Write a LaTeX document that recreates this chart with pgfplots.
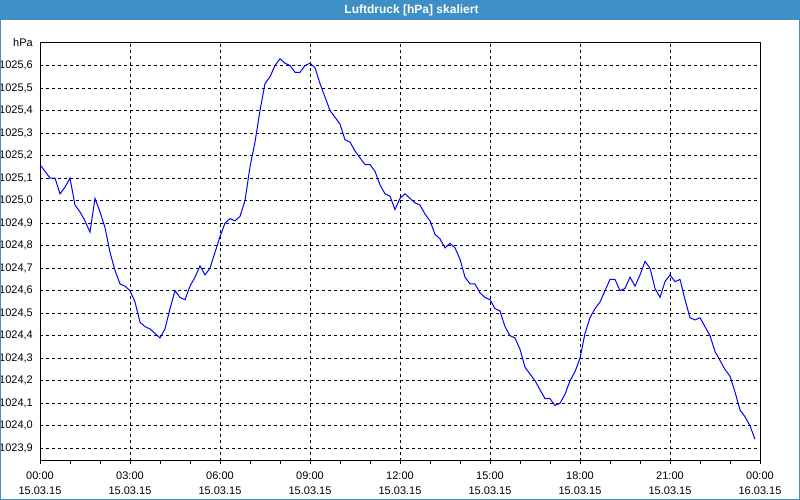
\documentclass[border=0pt]{standalone}
\usepackage{pgfplots}
\pgfplotsset{compat=1.18}
\usepackage{fontspec}
\setmainfont{Liberation Sans}
\definecolor{barblue}{RGB}{61,143,198}
\begin{document}
\fontsize{11}{15}\selectfont
\begin{tikzpicture}[x=1pt,y=1pt]
\useasboundingbox (0,0) rectangle (800,500);
\fill[white] (0,0) rectangle (800,500);
\fill[barblue] (0,480) rectangle (800,500);
\node[text=white, font=\fontsize{12}{14}\selectfont\bfseries, anchor=base] at (411.5,486) {Luftdruck [hPa] skaliert};
\begin{axis}[
  at={(40pt,39pt)}, anchor=south west,
  scale only axis, width=720pt, height=418pt,
  xmin=0, xmax=1440, ymin=1023.8435, ymax=1025.7,
  xtick={0,180,360,540,720,900,1080,1260,1440},
  xticklabels={{00:00\\15.03.15},{03:00\\15.03.15},{06:00\\15.03.15},{09:00\\15.03.15},{12:00\\15.03.15},{15:00\\15.03.15},{18:00\\15.03.15},{21:00\\15.03.15},{00:00\\16.03.15}},
  minor xtick={60,120,240,300,420,480,600,660,780,840,960,1020,1140,1200,1320,1380},
  ytick={1023.9,1024.0,1024.1,1024.2,1024.3,1024.4,1024.5,1024.6,1024.7,1024.8,1024.9,1025.0,1025.1,1025.2,1025.3,1025.4,1025.5,1025.6,1025.7},
  yticklabels={{1023,9},{1024,0},{1024,1},{1024,2},{1024,3},{1024,4},{1024,5},{1024,6},{1024,7},{1024,8},{1024,9},{1025,0},{1025,1},{1025,2},{1025,3},{1025,4},{1025,5},{1025,6},{hPa}},
  tick align=outside,
  xtick pos=bottom, ytick pos=left,
  major tick length=3pt, minor tick length=3pt,
  ytick style={/pgfplots/major tick length=0pt},
  tick style={black, line width=1pt},
  xmajorgrids, ymajorgrids,
  major grid style={black, line width=1pt, dash pattern=on 3pt off 3pt},
  axis line style={black, line width=1pt},
  xticklabel style={align=center, inner sep=0pt, yshift=-7.5pt, font=\fontsize{11}{15}\selectfont},
  yticklabel style={anchor=east, inner sep=0pt, xshift=-4pt, font=\fontsize{11}{15}\selectfont},
]
\addplot[blue, line width=1pt, mark=none] table {
x y
0 1025.16
10 1025.13
20 1025.10
30 1025.10
40 1025.03
50 1025.06
60 1025.10
70 1024.98
80 1024.95
90 1024.91
100 1024.86
110 1025.01
120 1024.95
130 1024.88
140 1024.77
150 1024.69
160 1024.63
170 1024.62
180 1024.60
190 1024.55
200 1024.46
210 1024.44
220 1024.43
230 1024.41
240 1024.39
250 1024.43
260 1024.52
270 1024.60
280 1024.57
290 1024.56
300 1024.62
310 1024.66
320 1024.71
330 1024.67
340 1024.70
350 1024.77
360 1024.84
370 1024.90
380 1024.92
390 1024.91
400 1024.93
410 1025.00
420 1025.15
430 1025.26
440 1025.40
450 1025.52
460 1025.55
470 1025.60
480 1025.63
490 1025.61
500 1025.60
510 1025.57
520 1025.57
530 1025.60
540 1025.61
550 1025.59
560 1025.52
570 1025.46
580 1025.40
590 1025.37
600 1025.34
610 1025.27
620 1025.26
630 1025.22
640 1025.19
650 1025.16
660 1025.16
670 1025.13
680 1025.07
690 1025.03
700 1025.02
710 1024.96
720 1025.01
730 1025.03
740 1025.01
750 1024.99
760 1024.98
770 1024.94
780 1024.91
790 1024.85
800 1024.83
810 1024.79
820 1024.81
830 1024.79
840 1024.74
850 1024.66
860 1024.63
870 1024.63
880 1024.59
890 1024.57
900 1024.56
910 1024.52
920 1024.51
930 1024.44
940 1024.40
950 1024.39
960 1024.34
970 1024.26
980 1024.23
990 1024.20
1000 1024.16
1010 1024.12
1020 1024.12
1030 1024.09
1040 1024.10
1050 1024.14
1060 1024.20
1070 1024.24
1080 1024.30
1090 1024.41
1100 1024.48
1110 1024.52
1120 1024.55
1130 1024.60
1140 1024.65
1150 1024.65
1160 1024.60
1170 1024.61
1180 1024.66
1190 1024.62
1200 1024.67
1210 1024.73
1220 1024.70
1230 1024.61
1240 1024.57
1250 1024.64
1260 1024.67
1270 1024.64
1280 1024.65
1290 1024.56
1300 1024.48
1310 1024.47
1320 1024.48
1330 1024.44
1340 1024.40
1350 1024.33
1360 1024.29
1370 1024.25
1380 1024.22
1390 1024.15
1400 1024.07
1410 1024.04
1420 1024.00
1430 1023.94
};
\end{axis}
\draw[barblue, line width=1pt] (0.5,0.5) rectangle (799.5,499.5);
\end{tikzpicture}
\end{document}
